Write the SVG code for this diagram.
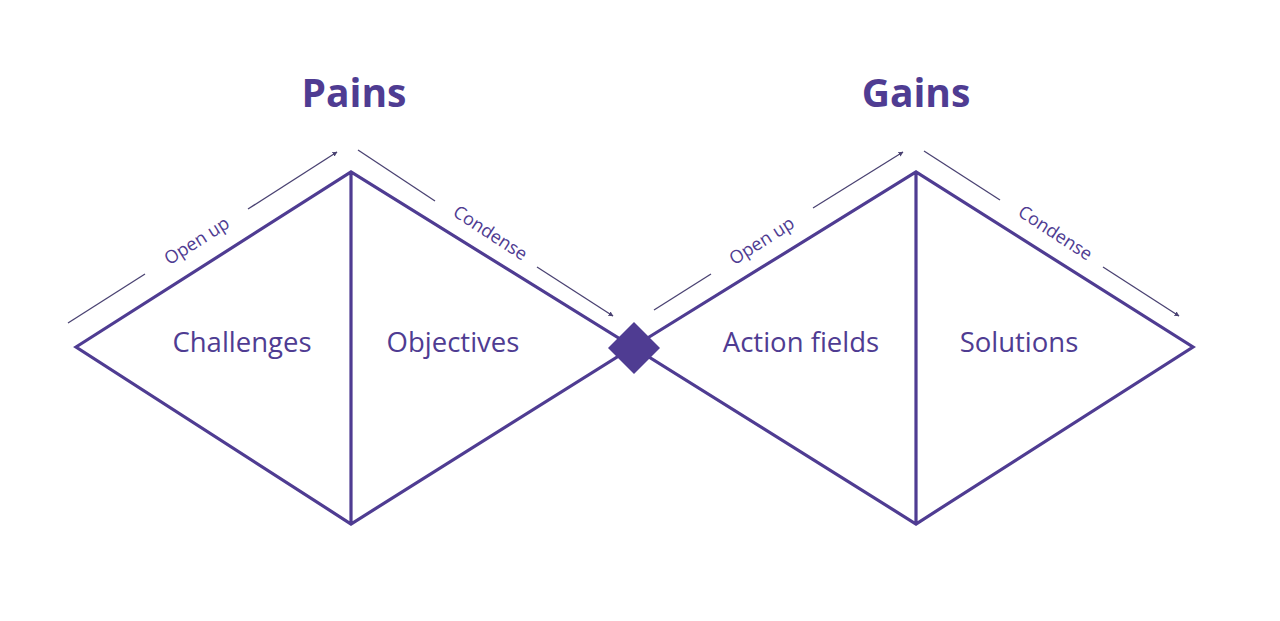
<svg xmlns="http://www.w3.org/2000/svg" width="1280" height="621" viewBox="0 0 1280 621">
<defs>
<style>
.shape{fill:none;stroke:#4f3c92;stroke-width:3.2;stroke-linejoin:miter}
.lbl{font-family:"Open Sans","Noto Sans",sans-serif;font-size:27.5px;fill:#4f3c92;text-anchor:middle}
.ttl{font-family:"Open Sans","Noto Sans",sans-serif;font-size:39px;font-weight:bold;fill:#4f3c92;text-anchor:middle}
.dir{font-family:"Open Sans","Noto Sans",sans-serif;font-size:18px;fill:#4f3c92;text-anchor:middle}
.arr{fill:none;stroke:#4a4272;stroke-width:1.3}
</style>
<marker id="ah" viewBox="0 0 10 10" refX="9" refY="5" markerWidth="5" markerHeight="5" orient="auto" markerUnits="userSpaceOnUse">
<path d="M0,0 L10,5 L0,10 z" fill="#4a4272"/>
</marker>
</defs>
<rect width="1280" height="621" fill="#ffffff"/>
<g id="pains">
<text class="ttl" x="354" y="107">Pains</text>
</g>
<g id="gains">
<text class="ttl" x="916" y="107">Gains</text>
</g>
<g id="diamond-left">
<path class="shape" d="M76,347 L351,172 L633,347 L351,524 Z M351,172 L351,524"/>
</g>
<g id="diamond-right">
<path class="shape" d="M633,347 L916,172 L1193,347 L916,524 Z M916,172 L916,524"/>
</g>
<g id="challenges"><text class="lbl" x="242" y="352">Challenges</text></g>
<g id="objectives"><text class="lbl" x="453" y="352">Objectives</text></g>
<g id="action-fields"><text class="lbl" x="801" y="352">Action fields</text></g>
<g id="solutions"><text class="lbl" x="1019" y="352">Solutions</text></g>
<g id="center">
<path d="M634,322 L660,348 L634,374 L608,348 Z" fill="#4f3c92"/>
</g>
<g id="connectors">
<line class="arr" x1="68" y1="323" x2="145" y2="274"/>
<line class="arr" x1="248" y1="209" x2="337" y2="152" marker-end="url(#ah)"/>
<line class="arr" x1="358" y1="150" x2="435" y2="201"/>
<line class="arr" x1="537" y1="267" x2="613" y2="316" marker-end="url(#ah)"/>
<line class="arr" x1="654" y1="310" x2="711" y2="274"/>
<line class="arr" x1="813" y1="208" x2="903" y2="152" marker-end="url(#ah)"/>
<line class="arr" x1="924" y1="151" x2="1000" y2="200"/>
<line class="arr" x1="1103" y1="267" x2="1179" y2="316" marker-end="url(#ah)"/>
</g>
<g id="labels">
<text class="dir" transform="translate(200,246) rotate(-32.5)">Open up</text>
<text class="dir" transform="translate(487,238) rotate(33)">Condense</text>
<text class="dir" transform="translate(765,246) rotate(-32.5)">Open up</text>
<text class="dir" transform="translate(1052,238) rotate(33)">Condense</text>
</g>
</svg>
